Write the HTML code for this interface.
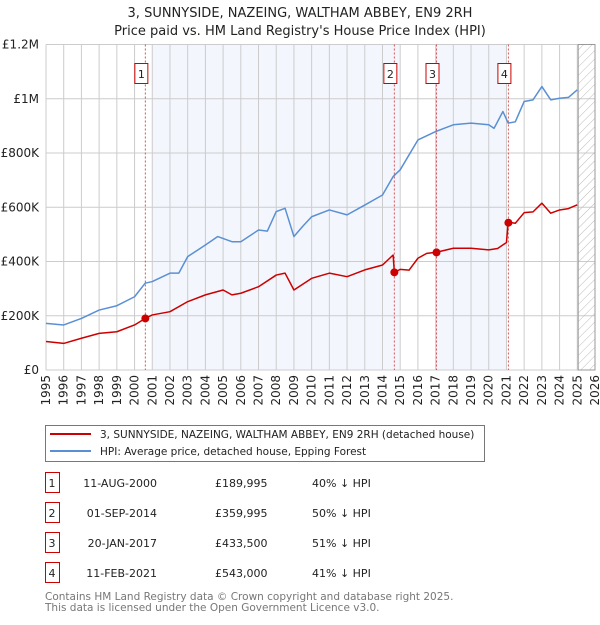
<!DOCTYPE html>
<html><head><meta charset="utf-8"><style>
body{margin:0;background:#fff;font-family:"Liberation Sans","DejaVu Sans",sans-serif;}
svg text{font-family:"DejaVu Sans","Liberation Sans",sans-serif;}
</style></head><body>
<svg id="c" width="600" height="620" xmlns="http://www.w3.org/2000/svg">
<text x="300" y="17" text-anchor="middle" font-size="13" fill="#222">3, SUNNYSIDE, NAZEING, WALTHAM ABBEY, EN9 2RH</text>
<text x="300" y="35" text-anchor="middle" font-size="13" fill="#222">Price paid vs. HM Land Registry's House Price Index (HPI)</text>
<g id="plot"></g>
<g>
<rect x="45.5" y="425.5" width="439" height="36" fill="#fff" stroke="#777"/>
<line x1="50" y1="434" x2="91" y2="434" stroke="#cc0000" stroke-width="2"/>
<text x="100" y="438" font-size="10.5" fill="#222">3, SUNNYSIDE, NAZEING, WALTHAM ABBEY, EN9 2RH (detached house)</text>
<line x1="50" y1="451" x2="91" y2="451" stroke="#5b8fd4" stroke-width="2"/>
<text x="100" y="455" font-size="10.5" fill="#222">HPI: Average price, detached house, Epping Forest</text>
</g>
<g id="table" font-size="11" fill="#222"></g>
<text x="45" y="600" font-size="10.5" fill="#777">Contains HM Land Registry data © Crown copyright and database right 2025.</text>
<text x="45" y="611" font-size="10.5" fill="#777">This data is licensed under the Open Government Licence v3.0.</text>
</svg>
<script>
const hpiYears=[1995,1996,1997,1998,1999,2000,2000.6,2001,2002,2002.5,2003,2004,2004.7,2005.5,2006,2007,2007.5,2008,2008.5,2009,2009.5,2010,2011,2012,2013,2014,2014.6,2015,2016,2017,2018,2019,2020,2020.3,2020.8,2021.1,2021.5,2022,2022.5,2023,2023.5,2024,2024.5,2025];
const hpiValues=[172,166,190,221,237,270,320,326,357,357,418,461,492,473,473,516,512,584,596,492,530,565,590,572,608,645,713,738,848,879,904,910,904,891,953,910,915,990,996,1045,996,1002,1005,1033];
const ppYears=[1995,1996,1997,1998,1999,2000,2000.6,2001,2002,2003,2004,2005,2005.5,2006,2007,2008,2008.5,2009,2010,2011,2012,2013,2014,2014.6,2014.67,2015,2015.5,2016,2016.5,2017.05,2018,2019,2020,2020.5,2021.0,2021.1,2021.5,2022,2022.5,2023,2023.5,2024,2024.5,2025];
const ppValues=[105,98,117,135,141,166,190,203,215,252,277,295,277,283,307,350,357,295,338,357,344,369,387,424,360,371,368,412,430,434,449,449,443,448,470,545,541,580,583,615,578,590,595,609];
const sales=[{n:"1",t:2000.61,v:189.995,d:"11-AUG-2000",p:"£189,995",h:"40% ↓ HPI"},{n:"2",t:2014.67,v:359.995,d:"01-SEP-2014",p:"£359,995",h:"50% ↓ HPI"},{n:"3",t:2017.05,v:433.5,d:"20-JAN-2017",p:"£433,500",h:"51% ↓ HPI"},{n:"4",t:2021.11,v:543,d:"11-FEB-2021",p:"£543,000",h:"41% ↓ HPI"}];
const yTicks=[0,200,400,600,800,1000,1200];
const yLabels=["£0","£200K","£400K","£600K","£800K","£1M","£1.2M"];
const NS="http://www.w3.org/2000/svg";
const L=46,R=595,T=44.5,B=370,X0=1995,X1=2026,YM=1200;
const sx=t=>L+(t-X0)/(X1-X0)*(R-L), sy=v=>B-v/YM*(B-T);
const g=document.getElementById('plot');
function mk(tag,a,p){const e=document.createElementNS(NS,tag);for(const k in a)e.setAttribute(k,a[k]);(p||g).appendChild(e);return e;}
let e;
e=mk('rect',{x:sx(2001),y:T,width:sx(2015)-sx(2001),height:B-T,fill:'#eef3fc',opacity:0.7});


e=mk('rect',{x:sx(2017),y:T,width:sx(2021)-sx(2017),height:B-T,fill:'#eef3fc',opacity:0.7});


for(let y=X0;y<=X1;y++){
 e=mk('line',{x1:sx(y),x2:sx(y),y1:T,y2:B,stroke:'#ccc','stroke-width':1});
 
 
 e=mk('text',{x:0,y:0,'font-size':12,fill:'#222','text-anchor':'end',transform:`translate(${sx(y)+4},${B+5}) rotate(-90)`});
 e.textContent=y;
 
 
}
yTicks.forEach((v,i)=>{
 e=mk('line',{x1:L,x2:R,y1:sy(v),y2:sy(v),stroke:'#ccc','stroke-width':1});
 
 
 e=mk('text',{x:L-7,y:sy(v)+4,'font-size':12,fill:'#222','text-anchor':'end'});
 e.textContent=yLabels[i];
 
 
});
const defs=mk('defs',{});
const pat=mk('pattern',{id:'h',width:6,height:6,patternUnits:'userSpaceOnUse',patternTransform:'rotate(45)'},defs);
mk('line',{x1:0,y1:0,x2:0,y2:6,stroke:'#bbb','stroke-width':1},pat);
e=mk('rect',{x:sx(2025.05),y:T,width:R-sx(2025.05),height:B-T,fill:'url(#h)',stroke:'#999'});


sales.forEach(s=>{
 e=mk('line',{x1:sx(s.t),x2:sx(s.t),y1:T,y2:B,stroke:'#e05050','stroke-width':1,'stroke-dasharray':'2,2'});
 
 
});
function path(xs,vs,c,n){
 e=mk('polyline',{points:xs.map((t,i)=>sx(t)+','+sy(vs[i])).join(' '),fill:'none',stroke:c,'stroke-width':1.5,'stroke-linejoin':'round'});
 
 
}
path(hpiYears,hpiValues,'#5b8fd4','hpi-line');
path(ppYears,ppValues,'#cc0000','price-paid-line');
sales.forEach(s=>{
 e=mk('circle',{cx:sx(s.t),cy:sy(s.v),r:4,fill:'#cc0000'});
 
 
 e=mk('rect',{x:sx(s.t)-10.5,y:63.5,width:13,height:20,fill:'#fff',stroke:'#cc0000'});
 
 
 e=mk('text',{x:sx(s.t)-4,y:78,'font-size':11,fill:'#222','text-anchor':'middle'});
 e.textContent=s.n;
 
 
});
const tb=document.getElementById('table');
sales.forEach((s,i)=>{
 const y=483+i*30;
 e=mk('rect',{x:45.5,y:y-10.5,width:14,height:20,fill:'#fff',stroke:'#cc0000'},tb);
 
 
 [[52,s.n,'middle'],[157,s.d,'end'],[215,s.p,'start'],[312,s.h,'start']].forEach(([x,t,a])=>{
  e=mk('text',{x:x,y:y+4,'text-anchor':a},tb);
  e.textContent=t;
  
  
 });
});
</script>
</body></html>
